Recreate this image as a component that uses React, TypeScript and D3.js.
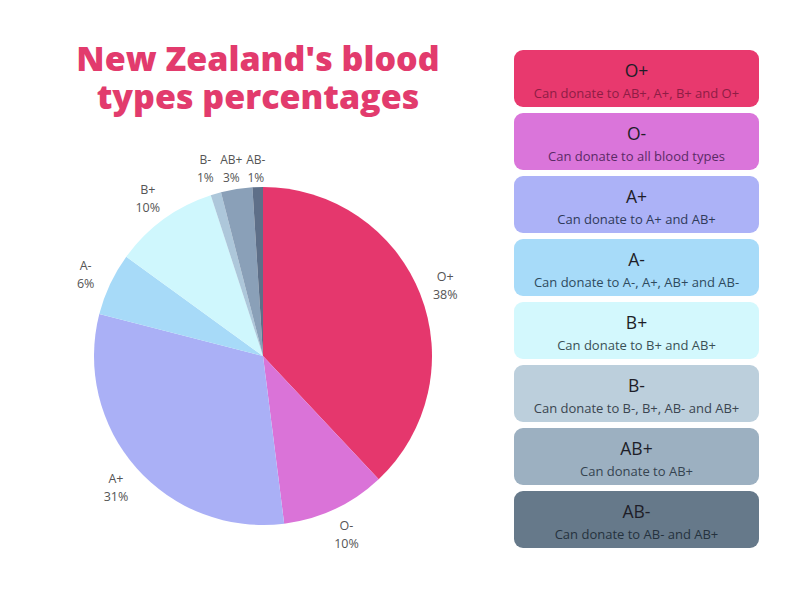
import React from "react";
import * as d3 from "d3";

const types = ["O+", "O-", "A+", "A-", "B+", "B-", "AB+", "AB-"];
const percents = [38, 10, 31, 6, 10, 1, 3, 1];
const sliceColors = ["#E5376D", "#DA73D8", "#AAB0F6", "#A7DAF8", "#CFF7FD", "#ADC7DA", "#8AA0B8", "#5E6F88"];
const boxColors = ["#E8396E", "#DA75DA", "#ACB2F7", "#A7DBF9", "#D3F8FD", "#BCCFDC", "#9CB0C1", "#66798A"];
const subColors = ["#8E1D45", "#5A2A66", "#2F3A5A", "#2E4A5E", "#3A5055", "#3A4550", "#354350", "#25323E"];
const descriptions = [
  "Can donate to AB+, A+, B+ and O+",
  "Can donate to all blood types",
  "Can donate to A+ and AB+",
  "Can donate to A-, A+, AB+ and AB-",
  "Can donate to B+ and AB+",
  "Can donate to B-, B+, AB- and AB+",
  "Can donate to AB+",
  "Can donate to AB- and AB+",
];
const titleLines = ["New Zealand's blood", "types percentages"];

export default function App() {
  const W = 800, H = 600;
  const cx = 263, cy = 356, R = 169;
  const pie = d3.pie<number>().sort(null).value((d) => d);
  const arcs = pie(percents);
  const arcGen = d3.arc<d3.PieArcDatum<number>>().innerRadius(0).outerRadius(R);
  const labelArc = d3.arc<d3.PieArcDatum<number>>().innerRadius(R * 1.16).outerRadius(R * 1.16);

  const labelOffsets: Record<string, [number, number]> = {
    "B-": [-3, 0],
    "AB+": [-1, 0],
    "AB-": [-1, 0],
  };

  const boxX = 514, boxW = 245, boxH = 57, boxTop = 50, pitch = 63;
  const yBand = d3.scaleBand<string>().domain(types).range([boxTop, boxTop + pitch * types.length]).paddingInner(0);

  const font = "'Open Sans', 'Noto Sans', sans-serif";

  return (
    <svg width={W} height={H} style={{ position: "absolute", left: 0, top: 0, background: "#fff" }} fontFamily={font}>
      <rect x={0} y={0} width={W} height={H} fill="#fff" />
      <text x={258} y={71} textAnchor="middle" fontSize={34} fontWeight={800} fill="#E23B6D">
        <tspan x={258} dy={0}>{titleLines[0]}</tspan>
        <tspan x={258} dy={38}>{titleLines[1]}</tspan>
      </text>
      <g transform={`translate(${cx},${cy})`}>
        {arcs.map((a, i) => (
          <path key={types[i]} d={arcGen(a) || ""} fill={sliceColors[i]} />
        ))}
        {arcs.map((a, i) => {
          const [x, y] = labelArc.centroid(a);
          const off = labelOffsets[types[i]] || [0, 0];
          let lx = x + off[0], ly = y + off[1];
          const small = types[i] === "B-" || types[i] === "AB+" || types[i] === "AB-";
          if (small) ly = -189;
          return (
            <text key={types[i]} x={lx} y={ly} textAnchor="middle" fontSize={small ? 12 : 12.5} fill="#555">
              <tspan x={lx} dy={-3}>{types[i]}</tspan>
              <tspan x={lx} dy={18}>{percents[i]}%</tspan>
            </text>
          );
        })}
      </g>
      {types.map((t, i) => {
        const y = yBand(t) as number;
        return (
          <g key={t}>
            <rect x={boxX} y={y} width={boxW} height={boxH} rx={9} fill={boxColors[i]} />
            <text x={boxX + boxW / 2} y={y + 27} textAnchor="middle" fontSize={17.5} fill="#1e1e28">
              {t}
            </text>
            <text x={boxX + boxW / 2} y={y + 48} textAnchor="middle" fontSize={13} fill={subColors[i]}>
              {descriptions[i]}
            </text>
          </g>
        );
      })}
    </svg>
  );
}
